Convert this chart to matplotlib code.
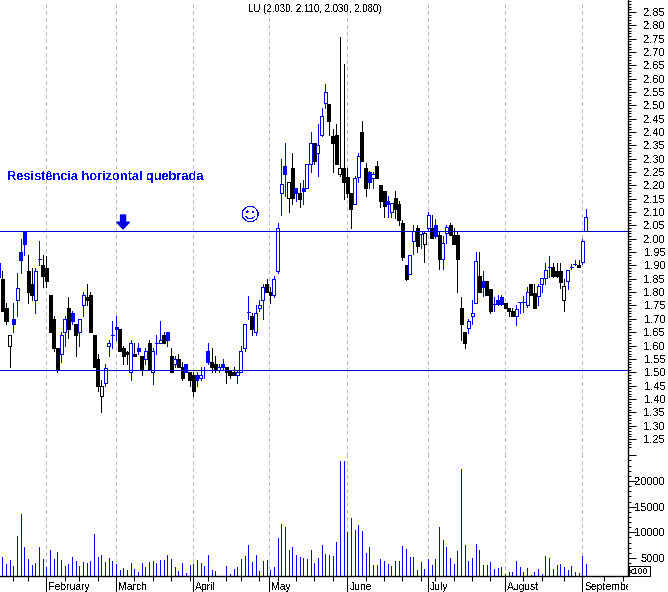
"""LU daily candlesticks with two horizontal levels and a volume panel below."""

import numpy as np
import matplotlib
matplotlib.use("Agg")
import matplotlib.pyplot as plt
from matplotlib.patches import Rectangle
from matplotlib.transforms import Bbox, TransformedBbox

plt.rcParams["font.family"] = ["Liberation Sans", "DejaVu Sans"]
plt.rcParams["text.antialiased"] = False

# B black filled, b blue filled, h blue hollow, k black hollow
kinds = list(
    "BBkbhbbBBh" "bBBBBBhhBb" "BhhBBBBkhh" "bbBBBhBbBh"
    "BhbhBbBhBB" "bBBbhbbBBh" "bBBBhhhbBh" "hhBBhhhbkB"
    "bBbhhBhhhB" "BBkBBBhhBB" "bhBBBbhBBB" "BhhBhkhBbB"
    "hhBBBBBhhh" "BbBBbbbBBB" "hbbhBBhhhb" "BBBkhbbBhh"
)

highs = [
    1.88, 1.76, 1.64, 1.76, 1.87, 2.00, 2.03, 1.94, 1.89, 1.89,
    1.99, 1.94, 1.935, 1.79, 1.71, 1.59, 1.65, 1.71, 1.78, 1.73,
    1.68, 1.70, 1.80, 1.83, 1.80, 1.64, 1.57, 1.47, 1.53, 1.62,
    1.69, 1.71, 1.66, 1.60, 1.58, 1.62, 1.61, 1.61, 1.56, 1.59,
    1.62, 1.59, 1.64, 1.69, 1.65, 1.65, 1.59, 1.56, 1.57, 1.54,
    1.53, 1.50, 1.50, 1.50, 1.52, 1.52, 1.61, 1.59, 1.56, 1.53,
    1.55, 1.52, 1.51, 1.52, 1.51, 1.60, 1.68, 1.785, 1.72, 1.75,
    1.77, 1.83, 1.85, 1.82, 1.86, 2.06, 2.30, 2.36, 2.21, 2.32,
    2.19, 2.21, 2.22, 2.28, 2.40, 2.36, 2.43, 2.49, 2.58, 2.505,
    2.41, 2.43, 2.756, 2.655, 2.265, 2.17, 2.235, 2.32, 2.44, 2.285,
    2.255, 2.25, 2.29, 2.20, 2.18, 2.16, 2.13, 2.18, 2.14, 2.07,
    1.90, 1.94, 2.05, 2.05, 2.03, 2.03, 2.10, 2.09, 2.075, 2.03,
    2.01, 2.05, 2.06, 2.04, 2.03, 1.78, 1.65, 1.70, 1.77, 1.95,
    1.95, 1.88, 1.84, 1.81, 1.78, 1.79, 1.79, 1.76, 1.74, 1.74,
    1.75, 1.76, 1.785, 1.82, 1.83, 1.83, 1.83, 1.85, 1.91, 1.935,
    1.91, 1.91, 1.91, 1.85, 1.88, 1.905, 1.92, 1.92, 2.00, 2.11,
]
lows = [
    1.73, 1.68, 1.52, 1.65, 1.71, 1.87, 1.94, 1.76, 1.77, 1.72,
    1.90, 1.82, 1.82, 1.65, 1.58, 1.50, 1.54, 1.60, 1.63, 1.68,
    1.56, 1.60, 1.71, 1.75, 1.65, 1.52, 1.43, 1.35, 1.45, 1.56,
    1.59, 1.62, 1.58, 1.53, 1.53, 1.47, 1.56, 1.57, 1.49, 1.53,
    1.51, 1.455, 1.57, 1.61, 1.61, 1.60, 1.50, 1.52, 1.52, 1.47,
    1.50, 1.45, 1.41, 1.45, 1.47, 1.48, 1.53, 1.50, 1.50, 1.50,
    1.51, 1.46, 1.48, 1.49, 1.46, 1.50, 1.58, 1.70, 1.64, 1.64,
    1.73, 1.70, 1.80, 1.76, 1.78, 1.87, 2.09, 2.16, 2.10, 2.13,
    2.14, 2.12, 2.13, 2.19, 2.25, 2.28, 2.235, 2.385, 2.49, 2.39,
    2.25, 2.28, 2.235, 2.15, 2.155, 2.04, 2.13, 2.2125, 2.29, 2.16,
    2.19, 2.19, 2.2275, 2.12, 2.08, 2.08, 2.08, 2.0775, 2.05, 1.92,
    1.845, 1.8675, 1.9425, 1.95, 1.965, 1.9125, 2.0325, 2.0025, 2.0025, 1.885,
    1.885, 1.985, 2.015, 1.98, 1.80, 1.62, 1.59, 1.645, 1.68, 1.76,
    1.80, 1.785, 1.79, 1.72, 1.73, 1.75, 1.75, 1.74, 1.71, 1.71,
    1.675, 1.72, 1.725, 1.745, 1.79, 1.74, 1.75, 1.80, 1.83, 1.855,
    1.855, 1.855, 1.815, 1.73, 1.81, 1.885, 1.90, 1.895, 1.905, 2.03,
]
tops = [
    1.85, 1.74, 1.64, 1.70, 1.815, 1.95, 2.025, 1.88, 1.83, 1.88,
    1.925, 1.90, 1.89, 1.79, 1.70, 1.59, 1.64, 1.70, 1.74, 1.72,
    1.68, 1.70, 1.79, 1.78, 1.79, 1.64, 1.55, 1.45, 1.515, 1.61,
    1.64, 1.67, 1.66, 1.59, 1.575, 1.61, 1.57, 1.59, 1.56, 1.58,
    1.61, 1.58, 1.61, 1.62, 1.64, 1.65, 1.56, 1.55, 1.55, 1.52,
    1.53, 1.50, 1.49, 1.49, 1.49, 1.51, 1.58, 1.54, 1.53, 1.52,
    1.53, 1.52, 1.51, 1.50, 1.50, 1.58, 1.68, 1.725, 1.71, 1.72,
    1.75, 1.82, 1.83, 1.80, 1.85, 2.04, 2.205, 2.2725, 2.2125, 2.265,
    2.19, 2.17, 2.19, 2.28, 2.36, 2.36, 2.35, 2.46, 2.55, 2.505,
    2.385, 2.39, 2.265, 2.265, 2.23, 2.17, 2.2275, 2.31, 2.40, 2.265,
    2.25, 2.2425, 2.2725, 2.20, 2.18, 2.14, 2.1325, 2.1525, 2.13, 2.06,
    1.90, 1.94, 2.03, 2.04, 2.03, 2.02, 2.09, 2.04, 2.05, 2.015,
    1.985, 2.045, 2.05, 2.015, 2.015, 1.74, 1.65, 1.69, 1.72, 1.915,
    1.86, 1.84, 1.84, 1.81, 1.755, 1.77, 1.78, 1.76, 1.74, 1.73,
    1.735, 1.763, 1.763, 1.80, 1.83, 1.797, 1.823, 1.853, 1.883, 1.894,
    1.894, 1.879, 1.879, 1.823, 1.883, 1.894, 1.905, 1.90, 1.99, 2.08,
]
bottoms = [
    1.73, 1.69, 1.60, 1.68, 1.77, 1.92, 1.98, 1.80, 1.79, 1.77,
    1.925, 1.86, 1.84, 1.65, 1.59, 1.51, 1.57, 1.65, 1.66, 1.69,
    1.64, 1.65, 1.75, 1.77, 1.65, 1.52, 1.45, 1.41, 1.46, 1.60,
    1.64, 1.66, 1.58, 1.56, 1.57, 1.50, 1.56, 1.58, 1.51, 1.55,
    1.51, 1.50, 1.61, 1.61, 1.61, 1.62, 1.50, 1.53, 1.52, 1.48,
    1.50, 1.47, 1.43, 1.47, 1.48, 1.51, 1.54, 1.52, 1.51, 1.51,
    1.52, 1.50, 1.49, 1.49, 1.49, 1.50, 1.59, 1.725, 1.66, 1.65,
    1.74, 1.77, 1.80, 1.79, 1.79, 1.88, 2.1725, 2.2425, 2.1525, 2.1525,
    2.17, 2.15, 2.18, 2.19, 2.28, 2.29, 2.32, 2.39, 2.51, 2.44,
    2.36, 2.28, 2.2425, 2.2125, 2.17, 2.11, 2.13, 2.23, 2.29, 2.19,
    2.2125, 2.2275, 2.2275, 2.14, 2.1225, 2.13, 2.10, 2.1125, 2.07, 1.93,
    1.85, 1.8675, 1.99, 1.9725, 2.0175, 1.98, 2.04, 2.0025, 2.01, 1.925,
    1.925, 2.02, 2.015, 1.98, 1.925, 1.68, 1.61, 1.665, 1.71, 1.76,
    1.80, 1.82, 1.79, 1.73, 1.755, 1.755, 1.755, 1.74, 1.73, 1.71,
    1.71, 1.763, 1.763, 1.75, 1.79, 1.74, 1.785, 1.83, 1.853, 1.894,
    1.86, 1.86, 1.838, 1.77, 1.842, 1.894, 1.905, 1.894, 1.913, 2.03,
]
volumes = [
    5200, 3850, 4600, 3450, 9300, 13600, 7150, 4800, 3650, 4050,
    7150, 4800, 3250, 6550, 4800, 6200, 4600, 3450, 3850, 5200,
    4400, 3450, 4250, 4050, 4400, 9700, 5200, 5600, 4250, 5000,
    4400, 3850, 2650, 3050, 2650, 4050, 2850, 2300, 4050, 3250,
    4250, 4400, 4050, 4600, 4600, 5600, 4800, 3250, 2500, 4050,
    2100, 3650, 3850, 4600, 4050, 3450, 5600, 2650, 2500, 0,
    0, 3450, 1900, 2850, 3250, 4800, 5400, 7550, 4250, 5600,
    2500, 4400, 4600, 2650, 3250, 8900, 11650, 11050, 6550, 7150,
    5600, 5200, 5000, 4800, 6550, 4050, 5000, 7550, 5800, 5600,
    5400, 8150, 23900, 23900, 10100, 12800, 10450, 11450, 10300, 6000,
    7150, 3650, 3650, 4800, 4400, 3850, 3450, 4400, 4400, 7350,
    6750, 5200, 5200, 2650, 4250, 2850, 4800, 3650, 4800, 11050,
    8500, 7150, 5000, 3850, 6400, 22350, 7550, 4400, 5000, 7750,
    6550, 3650, 3650, 4250, 2850, 3050, 3250, 1900, 2300, 2300,
    4400, 3250, 2300, 3050, 1700, 2300, 2850, 1900, 5400, 5000,
    2850, 3650, 3850, 3250, 2650, 3450, 2300, 2100, 5400, 3850,
]

levels = [2.03, 1.51]
month_pos = [12, 31, 52, 72.75, 94, 116, 137, 158]
month_names = ["February", "March", "April", "May", "June", "July", "August", "September"]
week_pos = [3, 7, 17, 21, 26, 36, 41, 46, 51, 56, 61, 65, 70, 75, 80, 85, 90,
            99, 104, 109, 114, 118, 123, 128, 133, 142, 147, 153, 164, 169]

price_labels = np.arange(125, 290, 5) / 100
price_minor = np.arange(122, 290) / 100
vol_major = [5000, 10000, 15000, 20000, 25000]
vol_minor = np.arange(2000, 25000, 1000)

BLUE = "#0000ff"
LINE_BLUE = "#0000cc"
PX = 0.72   # one pixel in points at dpi=100
W, H = 668, 592
PLOT_W, PRICE_H, VOL_BOTTOM = 628, 455, 576


def style_right_axis(ax, major, labels, minor, pad):
    ax.yaxis.tick_right()
    ax.set_yticks(major, labels=labels)
    ax.set_yticks(minor, minor=True)
    ax.tick_params(axis="y", which="major", length=8 * PX, width=PX, pad=pad, labelsize=8)
    ax.tick_params(axis="y", which="minor", length=3 * PX, width=PX)
    for t in ax.yaxis.get_major_ticks():
        t.label2.set_ha("right")
    for side in ("top", "left", "bottom"):
        ax.spines[side].set_visible(False)
    ax.spines["right"].set_linewidth(1.0)


def draw_month_lines(ax):
    for m in month_pos:
        ax.axvline(m, color="#bdbdbd", lw=PX, ls=(0, (3, 3)), zorder=0, antialiased=False)


def draw_candles(ax, x):
    is_blue = [k in "bh" for k in kinds]
    edge = [BLUE if b else "black" for b in is_blue]
    face = ["white" if k in "hk" else e for k, e in zip(kinds, edge)]
    ax.vlines(x, lows, highs, colors=edge, lw=PX, zorder=2, antialiased=False)
    ax.bar(x, np.array(tops) - np.array(bottoms), bottom=bottoms, width=0.82,
           color=face, edgecolor=edge, linewidth=PX, zorder=3, antialiased=False)


fig = plt.figure(figsize=(W / 100, H / 100), dpi=100, facecolor="white")
ax_p = fig.add_axes([0, (H - PRICE_H) / H, PLOT_W / W, PRICE_H / H])
ax_v = fig.add_axes([0, (H - VOL_BOTTOM) / H, PLOT_W / W, (VOL_BOTTOM - PRICE_H) / H])

x = np.arange(len(highs))
xlim = (-2.33 / 3.67, (PLOT_W - 2.33) / 3.67)

# --- price panel
draw_candles(ax_p, x)
ax_p.vlines(-0.5, 1.8575, 1.911, colors=BLUE, lw=PX, zorder=2, antialiased=False)  # cut-off bar
draw_month_lines(ax_p)
for lev in levels:
    ax_p.axhline(lev, color=LINE_BLUE, lw=PX, zorder=4, antialiased=False)
ax_p.set_xlim(xlim)
ax_p.set_ylim(1.1896, 2.895)
ax_p.set_xticks([])
style_right_axis(ax_p, price_labels, [f"{v:.2f}" for v in price_labels], price_minor, 21)

ax_p.annotate("Resistência horizontal quebrada", xy=(7 / PLOT_W, 1 - 177 / PRICE_H),
              xycoords="axes fraction", color=BLUE, fontsize=9.2, fontweight="bold",
              ha="left", va="center")
ax_p.annotate("", xy=(32.9, 2.037), xytext=(32.9, 2.089),
              arrowprops=dict(width=3.6, headwidth=8.9, headlength=4.8, color="#0000e0", shrink=0))
ax_p.annotate("☺", xy=(251 / PLOT_W, 1 - 215 / PRICE_H), xycoords="axes fraction",
              color=BLUE, fontsize=14, family="DejaVu Sans", ha="center", va="center")
fig.text(314.5 / W, 1 - 8.5 / H, "LU (2.030, 2.110, 2.030, 2.080)", fontsize=7,
         ha="center", va="center")

# --- volume panel
ax_v.vlines(x, 1493, volumes, colors=BLUE, lw=PX, zorder=2, antialiased=False)
draw_month_lines(ax_v)
ax_v.set_xlim(xlim)
ax_v.set_ylim(1493, 25066)
style_right_axis(ax_v, vol_major, ["5000", "10000", "15000", "20000", ""], vol_minor, 21)
ax_v.spines["bottom"].set_visible(True)
ax_v.spines["bottom"].set_linewidth(1.0)

ax_v.set_xticks(month_pos, labels=[])
ax_v.set_xticks(week_pos, minor=True)
ax_v.tick_params(axis="x", which="major", length=16 * PX, width=PX)
ax_v.tick_params(axis="x", which="minor", length=4.5 * PX, width=PX)

clip = TransformedBbox(Bbox([[0, 0], [PLOT_W / W, 1]]), fig.transFigure)
for m, name in zip(month_pos, month_names):
    ax_v.annotate(name, xy=(m, 0), xycoords=("data", "axes fraction"), xytext=(2 * PX, -11 * PX),
                  textcoords="offset points", fontsize=7.5, ha="left", va="center",
                  annotation_clip=False).set(clip_box=clip, clip_on=True)

# little "x100" multiplier box next to the time axis
fig.add_artist(Rectangle((628.5 / W, 1 - 576 / H), 21 / W, 10 / H, transform=fig.transFigure,
                         facecolor="white", edgecolor="black", lw=PX, antialiased=False))
fig.text(639 / W, 1 - 571.5 / H, "x100", fontsize=6.5, ha="center", va="center")

fig.savefig("out.png", dpi=100)
